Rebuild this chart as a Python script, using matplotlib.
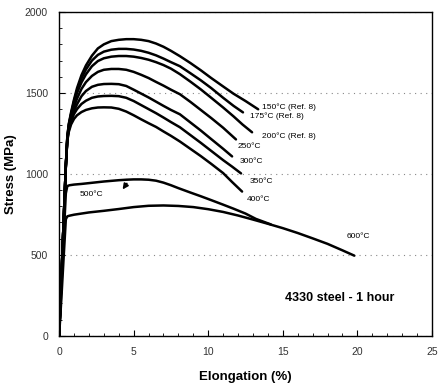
import matplotlib
matplotlib.use("Agg")
import matplotlib.pyplot as plt
from matplotlib.ticker import MultipleLocator

plt.rcParams['font.family'] = ['Liberation Sans', 'DejaVu Sans']

# ---- data ----
labels = ["150°C (Ref. 8)", "175°C (Ref. 8)", "200°C (Ref. 8)", "250°C", "300°C",
          "350°C", "400°C", "500°C", "600°C"]

x150 = [0, 0.15, 0.3, 0.45, 0.55, 0.65, 0.8, 1.0, 1.2, 1.5, 1.8, 2.2, 2.6, 3.0, 3.5, 4.0, 4.5,
        5.0, 5.5, 6.0, 6.5, 7.0, 7.5, 8.1, 8.8, 9.5, 10.2, 11.0, 11.7, 12.5, 13.35]
y150 = [0, 350, 700, 1050, 1230, 1310, 1380, 1460, 1530, 1610, 1670, 1730, 1775, 1800, 1820, 1828, 1832,
        1832, 1828, 1820, 1805, 1785, 1760, 1727, 1685, 1640, 1592, 1540, 1495, 1450, 1399]

x175 = [0, 0.15, 0.3, 0.45, 0.55, 0.65, 0.8, 1.0, 1.2, 1.5, 1.8, 2.2, 2.6, 3.0, 3.5, 4.0, 4.5,
        5.0, 5.5, 6.0, 6.5, 7.0, 7.5, 8.1, 8.8, 9.5, 10.2, 11.0, 11.7, 12.33]
y175 = [0, 350, 700, 1050, 1230, 1305, 1370, 1450, 1515, 1590, 1645, 1700, 1735, 1755, 1767, 1772, 1772,
        1768, 1760, 1748, 1732, 1712, 1690, 1665, 1622, 1578, 1530, 1470, 1420, 1380]

x200 = [0, 0.15, 0.3, 0.45, 0.55, 0.65, 0.8, 1.0, 1.2, 1.5, 1.8, 2.2, 2.6, 3.0, 3.5, 4.0, 4.5,
        5.0, 5.5, 6.0, 6.5, 7.0, 7.5, 8.1, 8.8, 9.5, 10.2, 11.0, 11.7, 12.3, 12.94]
y200 = [0, 350, 700, 1050, 1225, 1300, 1365, 1440, 1500, 1565, 1615, 1665, 1697, 1714, 1724, 1728, 1728,
        1724, 1716, 1705, 1690, 1672, 1650, 1616, 1570, 1522, 1470, 1410, 1355, 1305, 1257]

x250 = [0, 0.15, 0.3, 0.45, 0.55, 0.65, 0.8, 1.0, 1.2, 1.5, 1.8, 2.2, 2.6, 3.0, 3.5, 4.0, 4.5,
        5.0, 5.5, 6.0, 6.5, 7.0, 7.5, 8.1, 8.8, 9.5, 10.2, 11.0, 11.86]
y250 = [0, 350, 700, 1050, 1220, 1290, 1350, 1415, 1465, 1525, 1567, 1605, 1630, 1643, 1648, 1648, 1643,
        1630, 1612, 1592, 1568, 1545, 1520, 1492, 1445, 1395, 1345, 1285, 1213]

x300 = [0, 0.15, 0.3, 0.45, 0.55, 0.65, 0.8, 1.0, 1.2, 1.5, 1.8, 2.2, 2.6, 3.0, 3.5, 4.0, 4.5,
        5.0, 5.5, 6.0, 6.5, 7.0, 7.5, 8.1, 8.8, 9.5, 10.2, 11.0, 11.6]
y300 = [0, 350, 700, 1050, 1215, 1280, 1335, 1390, 1430, 1480, 1512, 1538, 1550, 1555, 1556, 1554, 1543,
        1520, 1496, 1472, 1446, 1420, 1395, 1368, 1318, 1268, 1215, 1155, 1108]

x350 = [0, 0.15, 0.3, 0.45, 0.55, 0.65, 0.8, 1.0, 1.2, 1.5, 1.8, 2.2, 2.6, 3.0, 3.5, 4.0, 4.5,
        5.0, 5.5, 6.0, 6.5, 7.0, 7.5, 8.1, 8.8, 9.5, 10.2, 11.0, 11.6, 12.2]
y350 = [0, 350, 700, 1050, 1210, 1270, 1325, 1370, 1400, 1432, 1452, 1470, 1478, 1481, 1482, 1480, 1470,
        1450, 1425, 1400, 1375, 1348, 1320, 1288, 1240, 1192, 1142, 1085, 1045, 1003]

x400 = [0, 0.15, 0.3, 0.45, 0.55, 0.65, 0.8, 1.0, 1.2, 1.5, 1.8, 2.2, 2.6, 3.0, 3.5, 4.0, 4.5,
        5.0, 5.5, 6.0, 6.5, 7.0, 7.5, 8.1, 8.8, 9.5, 10.2, 11.0, 11.6, 12.27]
y400 = [0, 350, 700, 1050, 1205, 1260, 1305, 1340, 1362, 1382, 1395, 1405, 1410, 1411, 1410, 1402, 1385,
        1362, 1337, 1313, 1290, 1262, 1235, 1200, 1155, 1110, 1062, 1005, 950, 891]

x500 = [0, 0.15, 0.3, 0.45, 0.55, 0.7, 1.0, 1.5, 2.0, 2.5, 3.0, 3.5, 4.0, 4.5, 5.0, 5.5, 6.0,
        6.5, 7.0, 7.5, 8.0, 8.8, 9.5, 10.2, 11.0, 11.7, 12.5, 13.2, 14.2]
y500 = [0, 300, 600, 880, 925, 930, 934, 938, 943, 948, 953, 957, 961, 964, 966, 966, 964,
        958, 946, 930, 912, 885, 862, 838, 810, 785, 755, 722, 688]

x600 = [0, 0.15, 0.3, 0.45, 0.55, 0.7, 1.0, 1.5, 2.0, 3.0, 4.0, 5.0, 6.0, 7.0, 8.0, 9.0, 10.0,
        11.0, 12.0, 13.0, 14.0, 15.0, 16.0, 17.0, 18.0, 19.0, 19.8]
y600 = [0, 230, 480, 720, 738, 742, 748, 755, 762, 772, 783, 795, 803, 805, 802, 795, 782,
        765, 743, 718, 692, 665, 635, 602, 568, 528, 495]

curves = [(x150, y150), (x175, y175), (x200, y200), (x250, y250), (x300, y300),
          (x350, y350), (x400, y400), (x500, y500), (x600, y600)]

# label positions (data coords)
label_pos = [(13.6, 1411), (12.8, 1356), (13.6, 1232), (12.0, 1170), (12.1, 1077),
             (12.8, 953), (12.6, 842), (1.4, 873), (19.3, 613)]

fig = plt.figure(figsize=(4.38, 3.86), dpi=100)
ax = fig.add_axes([0.135, 0.130, 0.851, 0.839])

for (xs, ys) in curves:
    ax.plot(xs, ys, color='black', lw=1.8, solid_capstyle='round', solid_joinstyle='round')

for lab, (lx, ly) in zip(labels, label_pos):
    ax.text(lx, ly, lab, fontsize=6, ha='left', va='center', color='black')

ax.annotate('', xy=(4.15, 890), xytext=(4.65, 955),
            arrowprops=dict(arrowstyle='-|>', color='black', lw=1.2, mutation_scale=8))

ax.text(18.8, 235, "4330 steel - 1 hour", fontsize=9, fontweight='bold',
        ha='center', va='center')

ax.set_xlim(0, 25)
ax.set_ylim(0, 2000)
ax.xaxis.set_major_locator(MultipleLocator(5))
ax.xaxis.set_minor_locator(MultipleLocator(1))
ax.yaxis.set_major_locator(MultipleLocator(500))
ax.yaxis.set_minor_locator(MultipleLocator(100))
ax.tick_params(which='both', direction='in', color='black')
ax.tick_params(which='major', length=4, labelsize=7.5, labelcolor='#333333', pad=8)
ax.tick_params(which='minor', length=2)
ax.grid(axis='y', which='major', linestyle=(0, (1, 4)), color='#888888', lw=0.8)
for s in ax.spines.values():
    s.set_linewidth(1.0)

ax.set_xlabel("Elongation (%)", fontsize=9.5, fontweight='bold', labelpad=10)
ax.set_ylabel("Stress (MPa)", fontsize=9.5, fontweight='bold', labelpad=6)

fig.savefig("out.png", dpi=100)
